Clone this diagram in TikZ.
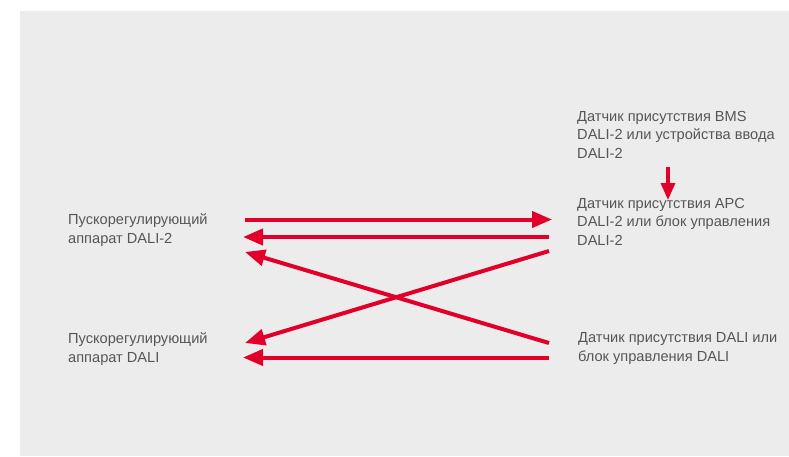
\documentclass[tikz,border=0pt]{standalone}
\usepackage{fontspec}
\setmainfont{Liberation Sans}
\usetikzlibrary{arrows.meta}
\definecolor{bggray}{RGB}{235,236,235}
\definecolor{dalired}{RGB}{226,0,42}
\definecolor{txtgray}{RGB}{85,86,88}
\begin{document}
\begin{tikzpicture}[x=1pt,y=-1pt,
  lbl/.style={anchor=base west,inner sep=0pt,align=left,text=txtgray,
    font=\fontsize{14.6}{18.5}\selectfont},
  conn/.style={draw=dalired,line width=4pt,
    -{Triangle[length=20pt,width=16pt]}},
  connv/.style={draw=dalired,line width=3.4pt,
    -{Triangle[length=17pt,width=14pt]}}]
\useasboundingbox (0,0) rectangle (789,456);
\fill[bggray] (20,11) rectangle (789,456);
% texts (anchored at the baseline of the last line)
\node[lbl] (ballast2) at (68,243) {Пускорегулирующий\\аппарат DALI-2};
\node[lbl] (ballast1) at (68,362) {Пускорегулирующий\\аппарат DALI};
\node[lbl] (bms) at (577,158) {Датчик присутствия BMS\\DALI-2 или устройства ввода\\DALI-2};
\node[lbl] (apc) at (577,245) {Датчик присутствия APC\\DALI-2 или блок управления\\DALI-2};
\node[lbl] (dali) at (578,361) {Датчик присутствия DALI или\\блок управления DALI};
% connector end points
\coordinate (a1s) at (245,219.5);
\coordinate (a1e) at (552,219.5);
\coordinate (a2s) at (549,237);
\coordinate (a2e) at (243,237);
\coordinate (a3s) at (549,343);
\coordinate (a3e) at (245,252);
\coordinate (a4s) at (549,251);
\coordinate (a4e) at (245,343);
\coordinate (a5s) at (549,357.5);
\coordinate (a5e) at (243,357.5);
\coordinate (vs) at (668,167);
\coordinate (ve) at (668,200);
% connectors
\draw[conn] (a1s) -- (a1e);
\draw[conn] (a2s) -- (a2e);
\draw[conn] (a3s) -- (a3e);
\draw[conn] (a4s) -- (a4e);
\draw[conn] (a5s) -- (a5e);
\draw[connv] (vs) -- (ve);
\end{tikzpicture}
\end{document}
